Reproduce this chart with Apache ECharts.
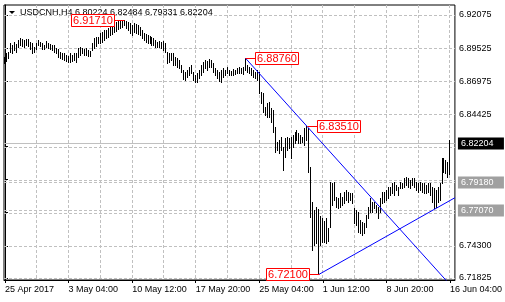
<!DOCTYPE html>
<html><head><meta charset="utf-8">
<script src="https://cdn.jsdelivr.net/npm/echarts@6/dist/echarts.min.js"></script>
<style>html,body{margin:0;padding:0;background:#fff}#c{width:505px;height:302px}</style>
</head><body><div id="c"></div>
<script>
// ---- data ----
const symbolName = 'USDCNH,H4';
const lastOpen = 6.80224;
const lastClose = 6.82204;
const highs = [
6.8884,6.8915,6.8923,6.8992,6.8977,6.9000,6.8984,6.9015,6.9030,6.9023,
6.9015,6.9023,6.9023,6.9000,6.8992,6.8961,6.8992,6.9015,6.9000,6.8992,
6.8977,6.9007,6.8992,6.8984,6.8977,6.8977,6.8953,6.8946,6.8923,6.8915,
6.8915,6.8900,6.8892,6.8915,6.8900,6.8915,6.8915,6.8953,6.8961,6.8953,
6.8946,6.8953,6.8938,6.8930,6.8992,6.9030,6.9038,6.9038,6.9069,6.9077,
6.9092,6.9092,6.9107,6.9115,6.9123,6.9146,6.9154,6.9161,6.9165,6.9168,
6.9171,6.9160,6.9154,6.9146,6.9130,6.9146,6.9138,6.9130,6.9115,6.9092,
6.9069,6.9061,6.9054,6.9046,6.9038,6.9030,6.9015,6.9000,6.9007,6.9000,
6.9007,6.8992,6.8923,6.8915,6.8915,6.8915,6.8884,6.8876,6.8861,6.8823,
6.8784,6.8769,6.8784,6.8807,6.8823,6.8769,6.8746,6.8761,6.8784,6.8823,
6.8846,6.8858,6.8850,6.8866,6.8862,6.8840,6.8799,6.8784,6.8769,6.8784,
6.8799,6.8784,6.8807,6.8784,6.8776,6.8792,6.8784,6.8799,6.8807,6.8799,
6.8807,6.8876,6.8823,6.8807,6.8799,6.8784,6.8769,6.8784,6.8769,6.8615,
6.8607,6.8499,6.8530,6.8538,6.8491,6.8476,6.8345,6.8230,6.8245,6.8268,
6.8191,6.8260,6.8268,6.8260,6.8268,6.8284,6.8307,6.8322,6.8299,6.8284,
6.8268,6.8337,6.8351,6.8337,6.8037,6.7768,6.7706,6.7729,6.7714,6.7660,
6.7645,6.7622,6.7645,6.7568,6.7922,6.7914,6.7922,6.7806,6.7798,6.7837,
6.7806,6.7845,6.7860,6.7845,6.7837,6.7837,6.7721,6.7706,6.7691,6.7629,
6.7614,6.7606,6.7668,6.7729,6.7798,6.7768,6.7768,6.7745,6.7729,6.7798,
6.7845,6.7845,6.7860,6.7883,6.7883,6.7914,6.7922,6.7899,6.7883,6.7922,
6.7914,6.7952,6.7960,6.7952,6.7937,6.7952,6.7952,6.7922,6.7914,6.7922,
6.7914,6.7914,6.7899,6.7914,6.7914,6.7883,6.7875,6.7860,6.7883,6.7914,
6.8106,6.8106,6.8091,6.8076,6.82484
];
const lows = [
6.8838,6.8853,6.8876,6.8923,6.8915,6.8938,6.8923,6.8961,6.8977,6.8969,
6.8961,6.8977,6.8969,6.8946,6.8915,6.8923,6.8946,6.8977,6.8969,6.8946,
6.8946,6.8961,6.8953,6.8946,6.8938,6.8923,6.8915,6.8884,6.8876,6.8869,
6.8861,6.8853,6.8846,6.8846,6.8853,6.8861,6.8846,6.8884,6.8900,6.8915,
6.8900,6.8900,6.8892,6.8892,6.8938,6.8953,6.8969,6.8992,6.8992,6.9000,
6.9015,6.9030,6.9038,6.9054,6.9061,6.9077,6.9084,6.9100,6.9107,6.9115,
6.9130,6.9107,6.9092,6.9069,6.9054,6.9077,6.9069,6.9061,6.9054,6.9030,
6.9015,6.9000,6.8992,6.8992,6.8977,6.8977,6.8961,6.8961,6.8961,6.8953,
6.8938,6.8923,6.8838,6.8846,6.8861,6.8823,6.8823,6.8807,6.8799,6.8769,
6.8715,6.8707,6.8730,6.8746,6.8761,6.8707,6.8692,6.8692,6.8722,6.8746,
6.8769,6.8799,6.8784,6.8807,6.8807,6.8769,6.8746,6.8722,6.8699,6.8692,
6.8730,6.8746,6.8761,6.8746,6.8746,6.8746,6.8753,6.8761,6.8761,6.8761,
6.8753,6.8784,6.8769,6.8761,6.8746,6.8730,6.8722,6.8707,6.8607,6.8530,
6.8461,6.8438,6.8422,6.8422,6.8384,6.8307,6.8153,6.8168,6.8145,6.8168,
6.8014,6.8114,6.8168,6.8183,6.8106,6.8191,6.8222,6.8245,6.8222,6.8222,
6.8230,6.8207,6.8245,6.7999,6.7652,6.7398,6.7436,6.7452,6.7210,6.7436,
6.7460,6.7460,6.7452,6.7468,6.7575,6.7745,6.7783,6.7729,6.7721,6.7729,
6.7745,6.7760,6.7783,6.7768,6.7783,6.7760,6.7606,6.7591,6.7537,6.7529,
6.7514,6.7529,6.7575,6.7644,6.7691,6.7691,6.7721,6.7691,6.7644,6.7691,
6.7760,6.7768,6.7783,6.7798,6.7822,6.7837,6.7822,6.7860,6.7822,6.7875,
6.7875,6.7883,6.7899,6.7883,6.7875,6.7899,6.7883,6.7860,6.7845,6.7860,
6.7845,6.7837,6.7837,6.7845,6.7822,6.7768,6.7721,6.7729,6.7768,6.7783,
6.7914,6.7999,6.7991,6.7960,6.79831
];
const xTickIdx = [0, 32, 64, 96, 128, 160, 192, 224];
const xTickLabels = ['25 Apr 2017', '3 May 04:00', '10 May 12:00', '17 May 20:00', '25 May 04:00', '1 Jun 12:00', '8 Jun 20:00', '16 Jun 04:00'];
const xGridIdx = [16, 32, 48, 64, 80, 96, 112, 128, 144, 160, 176, 192, 208, 224];
const yGridValues = [6.71825, 6.74300, 6.76850, 6.79400, 6.81950, 6.84425, 6.86975, 6.89525, 6.92075];
const yLabelValues = [6.71825, 6.74300, 6.84425, 6.86975, 6.89525, 6.92075];
const levelValues = [6.79180, 6.77070];
const pivotIdx = [60, 121, 152, 158];
const pivotVal = [6.91710, 6.88760, 6.83510, 6.72100];
const trend1 = [[121, 6.88760], [152, 6.83510]];
const trend2 = [[158, 6.72100], [216, 6.77100]];

// ---- layout / style ----
const pivotSide = ['left', 'right', 'right', 'left'];
const X_MIN = -0.5, X_MAX = 226.5;
const Y_MIN = 6.71672, Y_MAX = 6.92845;
const FONT = 'Liberation Sans, Arial, sans-serif';
const GRID_COLOR = '#c0c0c0';
const DASH_ON = 3, DASH_PERIOD = 5;

function ray(p, q) {
  const s = (q[1] - p[1]) / (q[0] - p[0]);
  return [p, q, [X_MAX, p[1] + s * (X_MAX - p[0])]];
}

// dashed line built from short solid segments (pixel styling only)
function dashedH(x0, x1, y) {
  const segs = [];
  for (let x = x0; x < x1; x += DASH_PERIOD) {
    segs.push({type: 'line', silent: true, shape: {x1: x, y1: y, x2: Math.min(x + DASH_ON, x1), y2: y},
      style: {stroke: GRID_COLOR, lineWidth: 1}});
  }
  return segs;
}
function dashedV(x, y0, y1) {
  const segs = [];
  for (let y = y0; y < y1; y += DASH_PERIOD) {
    segs.push({type: 'line', silent: true, shape: {x1: x, y1: y, x2: x, y2: Math.min(y + DASH_ON, y1)},
      style: {stroke: GRID_COLOR, lineWidth: 1}});
  }
  return segs;
}

const barData = highs.map((h, i) => [i, h, lows[i]]);
const pivotData = pivotIdx.map((ix, k) => [ix, pivotVal[k]]);
// rows: [kind, value]; kind 0 = horizontal grid, 1 = vertical grid, 2 = level line, 3 = current price
const lineRows = yGridValues.map(v => [0, v])
  .concat(xGridIdx.map(v => [1, v]))
  .concat(levelValues.map(v => [2, v]))
  .concat([[3, lastClose]]);

const chart = echarts.init(document.getElementById('c'), null, {renderer: 'canvas'});
chart.setOption({
  animation: false,
  backgroundColor: '#fff',
  grid: {left: 4, top: 5, right: 47, bottom: 22, show: true, borderColor: '#000', borderWidth: 1},
  xAxis: {
    type: 'value', min: X_MIN, max: X_MAX,
    axisLine: {show: true, onZero: false, lineStyle: {color: '#000'}},
    splitLine: {show: false},
    axisTick: {show: true, customValues: xTickIdx, length: 3, lineStyle: {color: '#000'}},
    axisLabel: {
      customValues: xTickIdx, align: 'left', margin: 5, color: '#000',
      fontFamily: FONT, fontSize: 9,
      formatter: v => { const k = xTickIdx.indexOf(Math.round(v)); return k >= 0 ? xTickLabels[k] : ''; }
    }
  },
  yAxis: {
    type: 'value', position: 'right', min: Y_MIN, max: Y_MAX,
    axisLine: {show: true, lineStyle: {color: '#000'}},
    splitLine: {show: false},
    axisTick: {show: true, customValues: yGridValues, length: 3, lineStyle: {color: '#000'}},
    axisLabel: {customValues: yLabelValues, margin: 4, color: '#000', fontFamily: FONT, fontSize: 9,
      formatter: v => v.toFixed(5)}
  },
  graphic: [
    {type: 'polygon', z: 1, shape: {points: [[9, 11], [15, 11], [12, 14]]}, style: {fill: '#000'}},
    {type: 'text', z: 1, style: {x: 20, y: 13, verticalAlign: 'middle', fill: '#000', font: '9px ' + FONT,
      text: symbolName + ' ' + lastOpen.toFixed(5) + ' ' + highs[highs.length - 1].toFixed(5) + ' ' + lows[lows.length - 1].toFixed(5) + ' ' + lastClose.toFixed(5)}}
  ],
  series: [
    { // grid lines, level lines and current price
      type: 'custom', z: 2, silent: true, clip: false,
      data: lineRows, encode: {x: -1, y: -1},
      renderItem: (params, api) => {
        const cs = params.coordSys;
        const kind = api.value(0), v = api.value(1);
        let children = [];
        if (kind === 1) {
          const x = Math.floor(api.coord([v, 6.8])[0]) + 0.5;
          children = dashedV(x, cs.y, cs.y + cs.height);
        } else {
          const y = Math.round(api.coord([X_MIN, v])[1]) + 0.5;
          if (kind === 3) {
            children.push({type: 'line', silent: true, shape: {x1: cs.x, y1: y, x2: cs.x + cs.width, y2: y},
              style: {stroke: GRID_COLOR, lineWidth: 1}});
          } else {
            children = dashedH(cs.x, cs.x + cs.width, y);
          }
          if (kind >= 2) {
            children.push({type: 'rect', z2: 20, shape: {x: cs.x + cs.width + 3, y: y - 6, width: 46, height: 12},
              style: {fill: kind === 3 ? '#000' : '#a0a0a0'}});
            children.push({type: 'text', z2: 21, style: {x: cs.x + cs.width + 6, y: y + 0.5, text: v.toFixed(5), fill: '#fff',
              font: '9px ' + FONT, verticalAlign: 'middle', align: 'left'}});
          }
        }
        return {type: 'group', children: children};
      }
    },
    { // OHLC bars (high-low)
      type: 'custom', z: 3, clip: true,
      data: barData,
      encode: {x: 0, y: [1, 2]},
      renderItem: (params, api) => {
        const i = api.value(0);
        const hi = api.coord([i, api.value(1)]);
        const lo = api.coord([i, api.value(2)]);
        const x = Math.floor(hi[0]) + 0.5;
        return {type: 'line', shape: {x1: x, y1: Math.round(hi[1]), x2: x, y2: Math.round(lo[1]) + 1},
          style: {stroke: '#000', lineWidth: 1}};
      }
    },
    {type: 'line', z: 4, data: ray(trend1[0], trend1[1]), showSymbol: false, clip: true,
      lineStyle: {color: '#0000ff', width: 1}},
    {type: 'line', z: 4, data: ray(trend2[0], trend2[1]), showSymbol: false, clip: true,
      lineStyle: {color: '#0000ff', width: 1}},
    { // pivot annotations
      type: 'custom', z: 6, clip: false,
      data: pivotData,
      encode: {x: 0, y: 1},
      renderItem: (params, api) => {
        const p = api.coord([api.value(0), api.value(1)]);
        const side = pivotSide[params.dataIndex];
        const gap = 10, w = 43, h = 12;
        const x0 = Math.round(p[0]) + 0.5, y0 = Math.round(p[1]) + 0.5;
        const x1 = side === 'left' ? x0 - gap : x0 + gap;
        const bx = side === 'left' ? x1 - w : x1;
        return {type: 'group', children: [
          {type: 'line', shape: {x1: x0, y1: y0, x2: x1, y2: y0}, style: {stroke: '#ff0000', lineWidth: 1}},
          {type: 'rect', shape: {x: bx, y: y0 - h / 2, width: w, height: h}, style: {fill: '#fff', stroke: '#ff0000', lineWidth: 1}},
          {type: 'text', style: {x: bx + w / 2, y: y0 + 0.5, text: api.value(1).toFixed(5), fill: '#ff0000',
            font: '11px ' + FONT, align: 'center', verticalAlign: 'middle'}}
        ]};
      }
    }
  ]
});
</script>
</body></html>
